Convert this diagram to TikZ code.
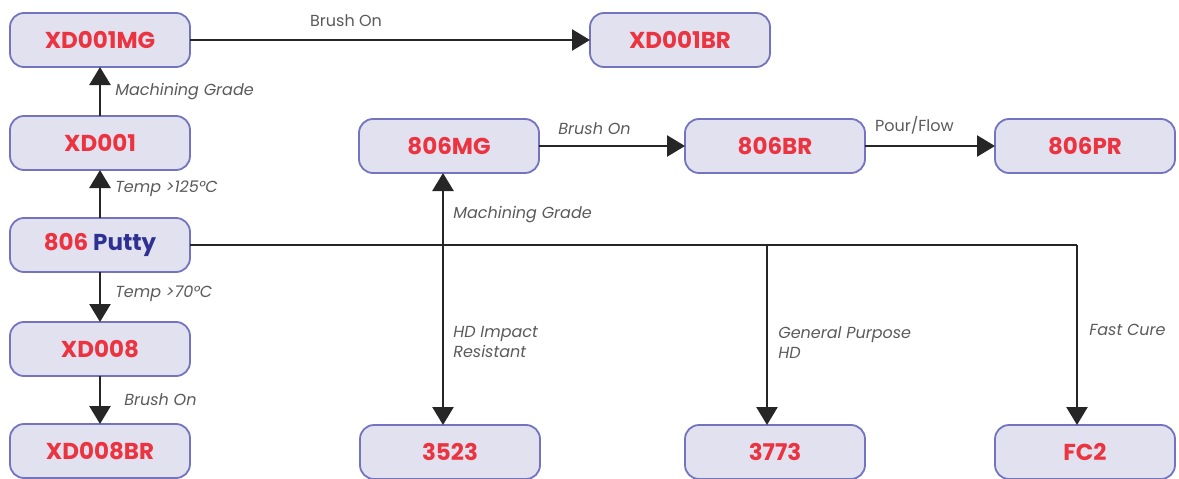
\documentclass[tikz,border=0pt]{standalone}
\usepackage{fontspec}
\setmainfont{Poppins}
\usetikzlibrary{positioning,arrows.meta}
\definecolor{boxfill}{HTML}{E1E1EF}
\definecolor{boxline}{HTML}{7373BF}
\definecolor{codered}{HTML}{EC3340}
\definecolor{puttyblue}{HTML}{2E3192}
\definecolor{notegray}{HTML}{5A5A5A}
\tikzset{
  prod/.style={draw=boxline, fill=boxfill, line width=1.8pt, rounded corners=14pt,
    minimum width=180pt, minimum height=54pt, outer sep=0pt, inner sep=0pt,
    font=\fontsize{23}{23}\selectfont\bfseries, text=codered},
  flow/.style={line width=2.6pt, draw=black!85, -{Triangle[width=21pt,length=18pt]}},
  note/.style={font=\fontsize{16}{20}\selectfont\itshape, text=notegray, inner sep=0pt, align=left},
  flatnote/.style={note, font=\fontsize{16}{20}\selectfont\upshape},
}

\begin{document}
\begin{tikzpicture}[x=1pt,y=1pt]
    \useasboundingbox (0,0) rectangle (1179,-479);
    \node[prod] (putty) at (100,-245) {806 \textcolor{puttyblue}{Putty}};
    \node[prod,above=48pt of putty] (xd001) {XD001};
    \node[prod,above=49pt of xd001] (xd001mg) {XD001MG};
    \node[prod,right=400pt of xd001mg] (xd001br) {XD001BR};
    \node[prod,below=50pt of putty] (xd008) {XD008};
    \node[prod,below=48pt of xd008] (xd008br) {XD008BR};
    \node[prod] (mg806) at (449,-146) {806MG};
    \node[prod,right=146pt of mg806] (br806) {806BR};
    \node[prod,right=130pt of br806] (pr806) {806PR};
    \node[prod] (p3523) at (450,-452) {3523};
    \node[prod,right=145pt of p3523] (p3773) {3773};
    \node[prod,right=130pt of p3773] (fc2) {FC2};
    \coordinate (t1) at (443,-245);
    \coordinate (t2) at (767,-245);
    \coordinate (t3) at (1077,-245);
    \draw[flow] (xd001mg) -- node[flatnote,above=12pt,pos=.39] {Brush On} (xd001br);
    \draw[flow] (xd001) -- node[note,right=14pt,pos=.5] {Machining Grade} (xd001mg);
    \draw[flow] (putty) -- node[note,right=14pt,pos=.6] {Temp >125\textdegree C} (xd001);
    \draw[flow] (putty) -- node[note,right=14pt,pos=.44] {Temp >70\textdegree C} (xd008);
    \draw[flow] (xd008) -- node[note,right=23pt,pos=.5] {Brush On} (xd008br);
    \draw[flow] (mg806) -- node[note,above=10pt,pos=.38] {Brush On} (br806);
    \draw[flow] (br806) -- node[flatnote,above=10pt,pos=.38] {Pour/Flow} (pr806);
    \draw[flow,-] (putty.east) -- (t3);
    \draw[flow,{Triangle[width=21pt,length=18pt]}-{Triangle[width=21pt,length=18pt]}] (t1 |- mg806.south)
        -- node[note,right=9pt,pos=.165] {Machining Grade}
           node[note,right=9pt,pos=.67] {HD Impact\\Resistant} (t1 |- p3523.north);
    \draw[flow] (t2) -- node[note,right=10pt,pos=.54] {General Purpose\\HD} (t2 |- p3773.north);
    \draw[flow] (t3) -- node[note,right=11pt,pos=.47] {Fast Cure} (t3 |- fc2.north);
\end{tikzpicture}
\end{document}
